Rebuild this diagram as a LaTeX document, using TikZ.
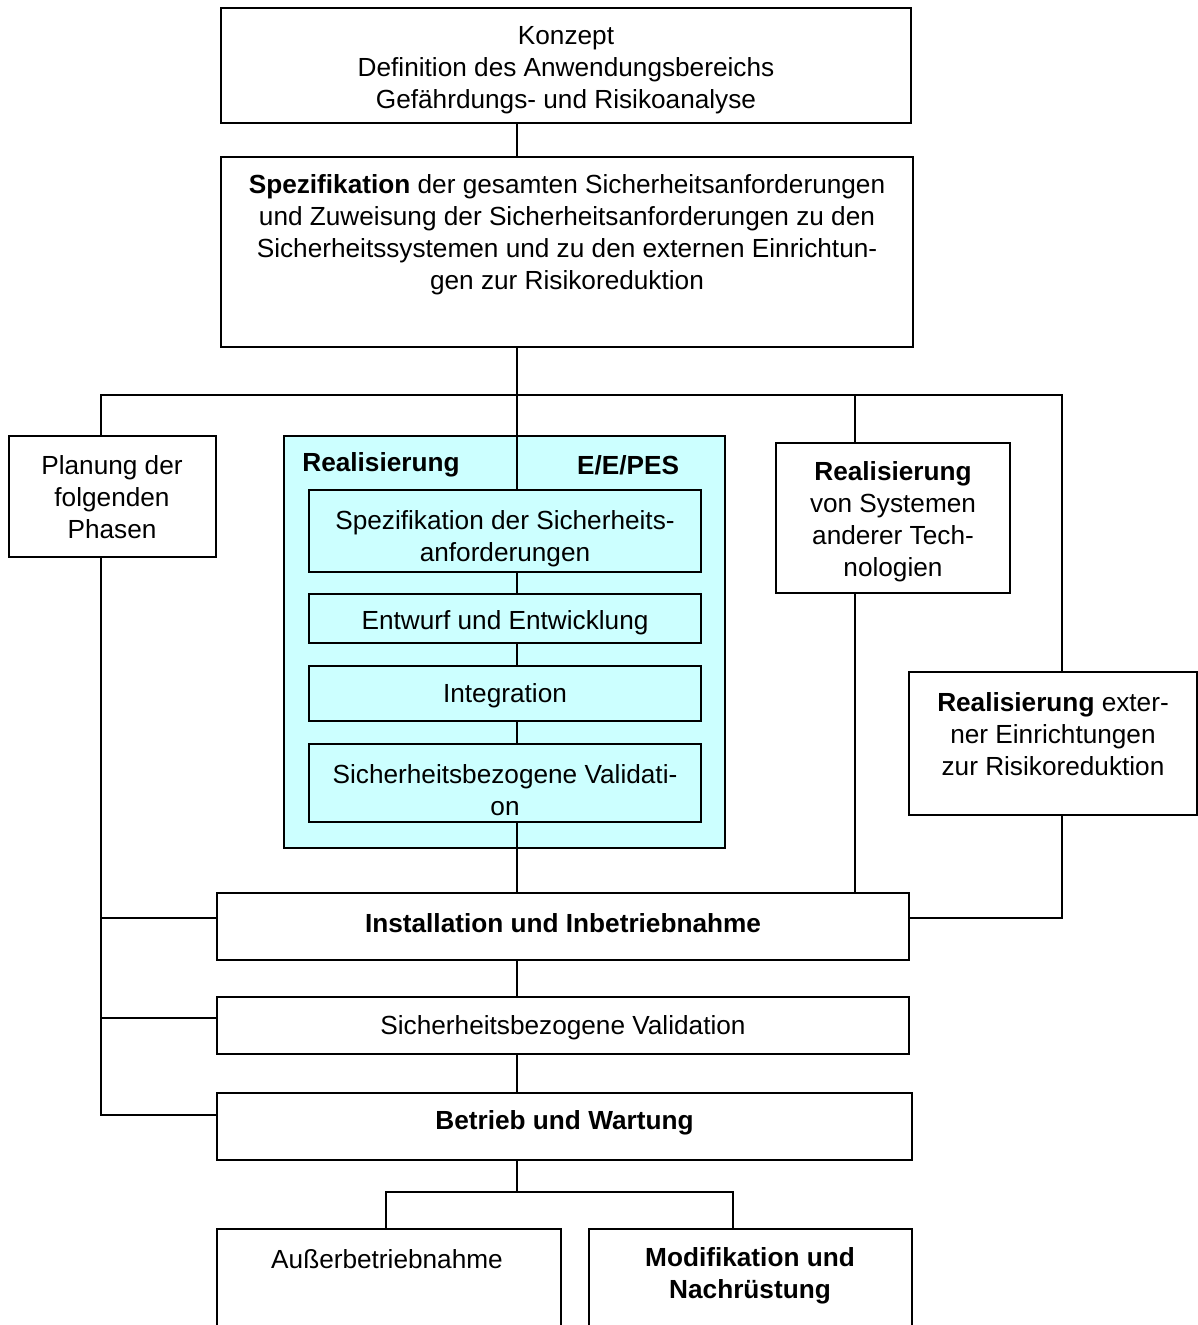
\documentclass[tikz,border=0pt]{standalone}
\usepackage{fontspec}
\setmainfont{Liberation Sans}
\definecolor{eecyan}{HTML}{CCFFFF}
\begin{document}
\begin{tikzpicture}[x=1pt,y=-1pt,
  box/.style={draw, line width=1.3pt, rectangle, inner sep=0pt, anchor=center, fill=white},
  txt/.style={align=center, inner sep=0pt, font=\fontsize{26.2}{32}\selectfont},
  btxt/.style={txt, font=\fontsize{26.2}{32}\selectfont\bfseries},
  conn/.style={line width=1.2pt}]
\useasboundingbox (0,0) rectangle (1198,1325);
\clip (0,0) rectangle (1198,1325);
% spine coordinates
\coordinate (L) at (101,0);
\coordinate (M) at (517,0);
\coordinate (O) at (855,0);
\coordinate (E) at (1062,0);
\coordinate (br) at (517,395);
\coordinate (yA) at (0,918);
\coordinate (yV) at (0,1018);
\coordinate (yW) at (0,1115);
\coordinate (yB) at (517,1192);
\coordinate (A) at (386,0);
\coordinate (B) at (733,0);
% boxes
\node[box, minimum width=690, minimum height=115] (konzept) at (566,65.5) {};
\node[box, minimum width=692, minimum height=190] (spec) at (567,252) {};
\node[box, minimum width=207, minimum height=121] (plan) at (112.5,496.5) {};
\node[box, fill=eecyan, minimum width=441, minimum height=412] (ee) at (504.5,642) {};
\node[box, minimum width=234, minimum height=150] (other) at (893,518) {};
\node[box, minimum width=288, minimum height=143] (ext) at (1053,743.5) {};
\node[box, minimum width=692, minimum height=67] (inst) at (563,926.5) {};
\node[box, minimum width=692, minimum height=57] (val) at (563,1025.5) {};
\node[box, minimum width=695, minimum height=67] (betr) at (564.5,1126.5) {};
\node[box, minimum width=344, minimum height=130] (ausser) at (389,1294) {};
\node[box, minimum width=323, minimum height=130] (mod) at (750.5,1294) {};
% connectors
\draw[conn] (konzept.south -| M) -- (spec.north -| M);
\draw[conn] (spec.south -| M) -- (br);
\draw[conn] (plan.north -| L) |- (br) -| (ext.north -| E);
\draw[conn] (other.north -| O) -- (O |- br);
\draw[conn] (br) -- (M |- 0,490);
% sub boxes of E/E/PES
\node[box, fill=eecyan, minimum width=392, minimum height=82] (s1) at (505,531) {};
\node[box, fill=eecyan, minimum width=392, minimum height=49] (s2) at (505,618.5) {};
\node[box, fill=eecyan, minimum width=392, minimum height=55] (s3) at (505,693.5) {};
\node[box, fill=eecyan, minimum width=392, minimum height=78] (s4) at (505,783) {};
\draw[conn] (s1.south -| M) -- (s2.north -| M);
\draw[conn] (s2.south -| M) -- (s3.north -| M);
\draw[conn] (s3.south -| M) -- (s4.north -| M);
\draw[conn] (s4.south -| M) -- (inst.north -| M);
\draw[conn] (other.south -| O) -- (inst.north -| O);
\draw[conn] (ext.south -| E) |- (inst.east |- yA);
\draw[conn] (plan.south -| L) |- (betr.west |- yW);
\draw[conn] (L |- yA) -- (inst.west |- yA);
\draw[conn] (L |- yV) -- (val.west |- yV);
\draw[conn] (inst.south -| M) -- (val.north -| M);
\draw[conn] (val.south -| M) -- (betr.north -| M);
\draw[conn] (betr.south -| M) -- (yB);
\draw[conn] (ausser.north -| A) |- (yB) -| (mod.north -| B);
% texts
\node[txt] (tkonzept) at (566,70.5) {Konzept\\Definition des Anwendungsbereichs\\Gefährdungs- und Risikoanalyse};
\node[txt] (tspec) at (567,234.5) {\textbf{Spezifikation} der gesamten Sicherheitsanforderungen\\und Zuweisung der Sicherheitsanforderungen zu den\\Sicherheitssystemen und zu den externen Einrichtun-\\gen zur Risikoreduktion};
\node[txt] (tplan) at (112,497.5) {Planung der\\folgenden\\Phasen};
\node[btxt] (thead1) at (381,465) {Realisierung};
\node[btxt] (thead2) at (628,465) {E/E/PES};
\node[txt] (ts1) at (505,539) {Spezifikation der Sicherheits-\\anforderungen};
\node[txt] (ts2) at (505,623) {Entwurf und Entwicklung};
\node[txt] (ts3) at (505,696) {Integration};
\node[txt] (ts4) at (505,790.5) {Sicherheitsbezogene Validati-\\on};
\node[txt] (tother) at (893,521.5) {\textbf{Realisierung}\\von Systemen\\anderer Tech-\\nologien};
\node[txt] (text) at (1053,734.5) {\textbf{Realisierung} exter-\\ner Einrichtungen\\zur Risikoreduktion};
\node[btxt] (tinst) at (563,923) {Installation und Inbetriebnahme};
\node[txt] (tval) at (563,1027.5) {Sicherheitsbezogene Validation};
\node[btxt] (tbetr) at (564.5,1122.5) {Betrieb und Wartung};
\node[txt] (tausser) at (387,1259.5) {Außerbetriebnahme};
\node[btxt] (tmod) at (750,1275.5) {Modifikation und\\Nachrüstung};
\end{tikzpicture}
\end{document}
